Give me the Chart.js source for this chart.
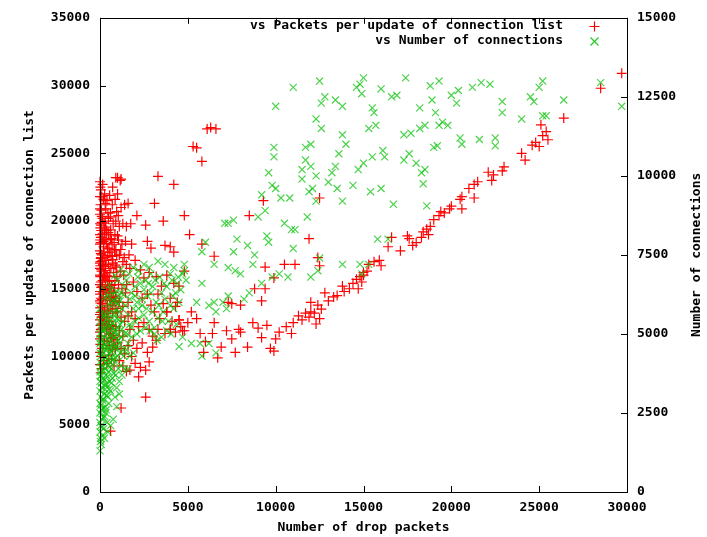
<!DOCTYPE html>
<html>
<head>
<meta charset="utf-8">
<script src="https://cdn.jsdelivr.net/npm/chart.js@4/dist/chart.umd.min.js"></script>
<style>
  html, body { margin: 0; padding: 0; background: #fff; }
  #wrap { width: 707px; height: 537px; }
</style>
</head>
<body>
<div id="wrap"><canvas id="dataChart" width="707" height="537"></canvas></div>
<script>
// axis ticks
var xTicks = [0, 5000, 10000, 15000, 20000, 25000, 30000];
var yTicks = [0, 5000, 10000, 15000, 20000, 25000, 30000, 35000];
var y2Ticks = [0, 2500, 5000, 7500, 10000, 12500, 15000];

// [drop packets, packets per update of connection list]
var packetsAxis = [
  [0,22900],[50,22300],[100,21800],[30,21200],[200,21600],[80,20800],[0,20500],[150,20200],[300,20000],[60,19700],
  [250,19400],[0,19000],[120,18800],[350,18600],[40,18400],[200,18100],[0,17800],[100,17500],[280,17300],[30,17000],
  [180,16800],[0,16500],[90,16300],[250,16100],[20,15900],[150,15600],[0,15300],[70,15100],[300,14900],[10,14600],
  [200,14400],[0,14100],[120,13900],[50,13600],[250,13400],[0,13100],[90,12900],[200,12600],[30,12300],[150,12100],
  [0,11800],[80,11500],[250,11200],[20,10900],[120,10600],[0,10300],[60,10000],[200,9700],[0,9400],[100,9100],[40,8800],
  [0,16000],[50,15500],[0,14800],[50,14300],[0,13600],[0,12700],[50,12000],[0,11300],[0,18300],[50,18800],
  [0,19800],[0,21800],[50,17600],[0,16900],[20,22500],[0,20900],[70,19300],[10,18600],[60,17300],[20,16700],
  [130,15200],[180,14700],[110,14200],[160,13300],[210,12900],[90,12400],[230,15800],[140,17100],[210,18500],[90,19900]
];
var packetsNear = [
  [400,21500],[550,21900],[700,21200],[450,20600],[600,20300],[750,19800],[380,19300],[500,19000],[650,18700],[800,18400],
  [420,18000],[560,17700],[700,17400],[350,17100],[480,16800],[620,16500],[780,16200],[400,15900],[530,15600],[680,15300],
  [350,15000],[500,14700],[650,14400],[800,14100],[420,13800],[580,13500],[720,13200],[380,12900],[520,12600],[680,12300],
  [450,12000],[600,11700],[750,11400],[400,11100],[550,10800],[700,10500],[500,10100],[650,9800],[400,9500],[800,9300],
  [900,23200],[1150,23000],[1000,22000],[950,20700],[1200,21000],[1400,21200],[900,20000],[1100,19600],[1300,19800],[850,19000],
  [1050,18600],[1250,18300],[1450,18500],[900,17900],[1100,17500],[1300,17000],[950,16600],[1150,16300],[1350,16000],[850,15600],
  [1050,15300],[1250,15000],[1450,14700],[900,14300],[1100,14000],[1300,13700],[1000,13300],[1200,12900],[1400,12600],[900,12200],
  [1100,11900],[1300,11500],[1000,11000],[1200,10600],[1400,10200],[1100,9700],[1300,9300],[1500,8900],
  [20,19500],[150,19050],[270,18650],[360,18350],[510,17950],[630,17400],[720,17150],[870,16750],[60,16450],[190,15950],
  [310,15650],[430,15150],[560,14850],[670,14350],[790,14050],[910,13550],[30,13250],[140,12950],[280,12450],[370,12150],
  [520,11650],[640,11350],[760,10850],[880,10550],[100,20350],[230,19850],[330,19550],[470,19150],[590,18650],[690,18250],
  [830,17850],[950,17450],[40,17250],[170,16750],[290,16350],[410,15950],[530,15550],[650,15250],[770,14750],[890,14450],
  [20,13950],[130,13650],[250,13150],[390,12850],[490,12350],[610,12050],[730,11550],[850,11250],
  [330,20900],[590,20600],[860,21600],[260,22000],[150,22700],[720,22500],[1040,20400],[1180,17900],[1380,17300],[1500,16800],
  [1520,15300],[1600,13000],[1650,17500],[1750,19800],[1500,19600],[1000,18900],[300,21300],[480,20200],[210,17700],[560,16200],
  [340,14250],[460,13350],[580,14150],[700,13750],[320,16650],[440,17450],[610,19350],[730,16900],[820,15050],[960,15900]
];
var packetsMid = [
  [1600,21300],[1800,18300],[2000,17100],[2300,16400],[2500,15800],[2800,16200],[1700,16500],[1900,15500],[2100,14800],[2400,14300],
  [2700,14600],[2900,13800],[1600,14000],[1800,13300],[2000,12800],[2200,12200],[2500,12500],[2800,12000],[3000,11500],[1700,12000],
  [1900,11200],[2100,10600],[2400,11000],[2700,10300],[1600,10800],[1800,10000],[2000,9500],[2300,9200],[1700,9000],[2600,9000],
  [2200,8500],[2800,9600],[3000,10700],[2600,7000],[1200,6200],[600,4500],
  [3200,15900],[3500,15200],[3800,16000],[4200,15400],[4500,15200],[4800,16300],[3300,14600],[3600,13900],[4000,14300],[4400,14000],
  [3100,13300],[3400,12800],[3800,13300],[4100,12600],[4600,12200],[3300,12000],[3700,11700],[4300,11800],[4700,11900],[3200,11200],
  [4000,12000],[4500,12700],[4300,13700],[5000,12500],
  [6300,26900],[6100,26800],[6600,26800],[5300,25500],[5500,25400],[5800,24400],[3300,23300],[4200,22700],[1000,23200],[1200,23100],
  [3100,21300],[2100,20400],[3600,20000],[4800,20400],[2600,19700],[5100,19000],[4200,17700],[3700,18200],[4000,18100],[2700,18500],
  [2900,18000],[5800,18300],[6500,17400],[9300,21500],[8500,20400],[12500,21700],[11900,18700],[12400,17300],[12500,16700],[11100,16800],
  [10500,16800],[9900,15800],[9400,16600],[9200,14100],[9400,15000],[7300,14000],[7500,13900],[8000,13800],[8800,15000],[12000,14000]
];
var packetsTrend = [
  [29700,30900],[28500,29800],[26400,27600],[25400,26600],[25200,26300],[25500,26000],[25000,25500],[25100,27100],[24800,25800],[24600,25600],
  [24200,24500],[24000,25000],[23000,24000],[22900,23700],[22400,23400],[22300,23000],[22100,23600],[21500,22900],[21300,22700],[21300,21700],
  [21000,22400],[20600,21800],[20500,21600],[20600,20900],[20000,21100],[19900,20900],[19600,20600],[19300,20400],[19400,20700],[19000,20100],
  [18800,19600],[18600,19400],[18400,19200],[18300,18800],[18700,19000],[18000,18400],[17800,18200],[17600,18700],[17500,18900],[17100,17800],
  [16600,18800],[16400,18100],[16000,16700],[15900,17100],[15600,17000],[15300,16800],[15200,16300],[15000,16000],[14800,15900],[14600,15700],
  [14400,15400],[15000,16200],[14900,15500],[14700,15000],[14200,15000],[13800,15200],[13900,14800],[13500,14500],[13300,14400],[13000,14100],
  [12800,14700],[12600,13500],[12400,13800],[12200,13200],[12000,13300],[11900,12900],[11700,13200],[11500,12700],[11300,13000],[11000,12500],
  [12500,12800],[12300,12400],[10900,11700],[10600,12200],[10200,11800],[10000,11300],[9900,10400],[9700,10600],[9500,12300],[9200,11400],
  [9000,12100],[8700,12500],[8400,10700],[8000,11800],[7900,12000],[7700,10300],[7500,11300],[7200,11900],[6900,10700],[6700,9900],
  [6500,12500],[6400,11700],[6000,11100],[5900,10300],[5700,11700],[5500,12800],[5200,13300],[4800,11900],[4500,12700],[4000,12000],[3800,13300]
];

// [drop packets, number of connections]
var connNear = [
  [0,1300],[80,1500],[30,1700],[150,1800],[0,1900],[200,2000],[50,2100],[0,2200],[120,2300],[250,2400],
  [0,2500],[80,2600],[300,2700],[0,2800],[150,2900],[40,3000],[250,3100],[0,3200],[100,3300],[300,3400],
  [0,3500],[180,3600],[60,3700],[0,3800],[280,3900],[120,4000],[0,4100],[220,4200],[60,4300],[0,4400],
  [300,4500],[150,4600],[0,4700],[80,4800],[250,4900],[0,5000],[120,5100],[40,5200],[0,5400],[200,5600],[0,5800],
  [400,2200],[350,2600],[500,2800],[450,3000],[600,3200],[400,3400],[550,3500],[700,3600],[350,3700],[500,3800],
  [650,3900],[450,4000],[600,4100],[750,4200],[400,4300],[550,4400],[700,4500],[350,4600],[500,4700],[650,4800],
  [800,4900],[450,5000],[600,5100],[750,5200],[400,5300],[550,5400],[700,5500],[350,5600],[500,5800],[650,6000],
  [450,6200],[600,6400],
  [850,3000],[950,3300],[1100,3500],[900,3700],[1050,3900],[1200,4000],[850,4100],[1000,4300],[1150,4400],[1300,4500],
  [900,4600],[1050,4800],[1200,4900],[1400,5000],[850,5100],[1000,5200],[1150,5300],[1300,5400],[950,5500],[1100,5700],
  [1250,5800],[1450,5900],[900,6000],[1050,6200],[1200,6300],[1400,6500],[1000,6700],[1300,6900],
  [30,1600],[110,2050],[200,2350],[330,2500],[60,2750],[180,2950],[400,3050],[520,3250],[90,3450],[240,3550],
  [650,3450],[780,3750],[30,3950],[350,4050],[480,4150],[900,4250],[140,4350],[620,4450],[1000,4550],[270,4650],
  [760,4650],[1100,4700],[20,4850],[430,4850],[880,5050],[190,5150],[590,5250],[1240,5150],[350,5450],[810,5650],
  [1050,5450],[60,5650],[460,5950],[1150,6050],[260,6150],[720,6250],[950,6350],[1350,6250],[140,6450],[530,6550],
  [840,6850],[1200,7050],[1100,3100],[950,2700],[750,2300],[600,2100],[450,1900],[250,1700],[1250,3700],[1400,3900],
  [160,2650],[290,3250],[420,3650],[560,3950],[690,4250],[820,4550],[980,4950],[200,3850],[330,4250],[470,4550],
  [610,4950],[740,5350],[880,5750],[170,5350],[300,5150],[530,5650],[780,6050],[1020,5950],[80,4550],[20,3650]
];
var connMid = [
  [1600,3900],[1700,4300],[1900,4400],[1600,4700],[1800,4900],[2100,5000],[2300,5100],[1700,5300],[2000,5400],[2200,5500],
  [2500,5600],[1600,5600],[1900,5800],[2100,6000],[2400,6100],[2700,6200],[1800,6300],[2000,6500],[2300,6600],[2600,6700],
  [2900,6900],[1700,6100],[2200,5800],[2800,5400],[2600,5200],[3000,5700],[2500,6400],[2900,6300],
  [3100,5200],[3300,5500],[3600,5700],[3900,5400],[4200,5800],[4500,6000],[3200,6000],[3500,6300],[3800,6500],[4100,6700],
  [4400,6600],[4700,6900],[3400,6800],[3700,6100],[4000,5900],[4300,6300],[4600,6400],[4900,6700],[3000,6500],[3100,5000],
  [3500,4900],[3800,5100],[4800,7000],[4200,7100],
  [1500,6700],[1650,6900],[1900,7100],[2200,7000],[2500,7200],[2800,7100],[3300,7300],[3700,7200],[4000,6900],[1550,5000],
  [1750,5200],[1350,4300],[1500,4500],[2000,6200],[2400,5900],[2650,5800],[3350,5900],[3650,6600],[4150,6200],[4450,6800],
  [2150,6800],[2750,6600],[3150,6700],[3550,5400],[4350,5300],[4050,5000],[3250,4800],[2850,5100]
];
var connSpread = [
  [29700,12200],[28500,12950],[26400,12400],[25200,13000],[25000,12800],[24700,12350],[24500,12500],[25400,11900],[25200,11900],[24000,11800],
  [22900,12350],[22900,12000],[22500,11200],[22500,10950],[21600,11150],[20500,11200],[20600,11000],[21200,12800],[21700,12950],[22200,12900],
  [20300,12300],[20000,12550],[20400,12700],[19500,11700],[19300,11600],[19800,11600],[19100,12000],[19200,10950],[19000,10900],[18200,12150],
  [18500,11600],[18200,11500],[18800,12850],[19300,13000],[17400,13100],[17700,11350],[17300,11300],[17600,10700],[17300,10500],[18000,10400],
  [18300,10100],[18400,9750],[18600,9050],[18500,10200],[18900,12400],[16900,12550],[16600,12500],[16000,12750],[15500,12150],[15600,12000],
  [15300,11500],[15700,11600],[16100,10800],[16200,10600],[15500,10600],[15000,10400],[14700,10200],[14800,12900],[15000,13100],[14600,12800],
  [14900,12600],[13800,12200],[13400,12400],[13800,11300],[14000,11000],[13600,10700],[13400,10300],[13200,10100],[12800,12500],[12600,12300],
  [12500,13000],[12300,11800],[12600,11500],[12000,11000],[11700,10900],[12000,10300],[12300,10000],[11500,10200],[11700,10500],[11000,12800],
  [10000,12200],[9900,10900],[9900,10600],[9600,10100],[9800,9700],[10000,9600],[10300,9300],[10800,9300],[9200,9400],[9400,8900],
  [9000,8700],[9500,8100],[9600,7900],[10500,8500],[10900,8300],[11100,8300],[12300,9200],[11900,9500],[11500,9900],[11800,8700],
  [12100,9600],[13000,9800],[13500,9600],[13800,9200],[14400,9700],[15400,9500],[16000,9600],[16700,9100],[15800,8000],[16400,8000],
  [14800,7200],[15300,7200],[13800,7200],[12500,7400],[12400,7000],[12000,6800],[14900,6900],[11000,7700],[10700,6800],[10200,6900],
  [9800,6800],[9200,6600],[8500,6300],[8200,6100],[7300,6200],[6500,6000],[6200,5900],[4800,7200],[5800,7600],[6000,7900],
  [7300,8500],[7600,8600],[7100,8500],[7800,8000],[7600,7600],[8400,7800],[8800,7500],[6500,7200],[7300,7100],[7700,7000],
  [8700,7200],[8000,6900],[5800,6600],[5500,6000],[6600,5700],[5700,4700],[6200,4700],[5200,4700],[4700,4900],[4500,4600],
  [6600,4400],[5800,4300],[7200,5800],[7000,6000]
];

var redPoints = packetsAxis.concat(packetsNear, packetsMid, packetsTrend);
var greenPoints = connNear.concat(connMid, connSpread);

function toXY(list) {
  return list.map(function(p) { return { x: p[0], y: p[1] }; });
}

function plain(v) { return String(v); }

var FONT = { family: "'DejaVu Sans Mono', monospace", size: 13, weight: 'bold' };

// frame, inward ticks, legend and right-hand title like gnuplot
var gnuplotFrame = {
  id: 'gnuplotFrame',
  afterDraw: function(chart) {
    var c = chart.ctx, a = chart.chartArea, s = chart.scales;
    var tl = 6;
    c.save();
    c.strokeStyle = '#000';
    c.lineWidth = 1;
    c.strokeRect(Math.round(a.left) + 0.5, Math.round(a.top) + 0.5,
                 Math.round(a.right - a.left), Math.round(a.bottom - a.top));
    c.beginPath();
    xTicks.forEach(function(v) {
      var px = Math.round(s.x.getPixelForValue(v)) + 0.5;
      c.moveTo(px, a.bottom); c.lineTo(px, a.bottom - tl);
      c.moveTo(px, a.top); c.lineTo(px, a.top + tl);
    });
    yTicks.forEach(function(v) {
      var py = Math.round(s.y.getPixelForValue(v)) + 0.5;
      c.moveTo(a.left, py); c.lineTo(a.left + tl, py);
    });
    y2Ticks.forEach(function(v) {
      var py = Math.round(s.y2.getPixelForValue(v)) + 0.5;
      c.moveTo(a.right, py); c.lineTo(a.right - tl, py);
    });
    c.stroke();

    // legend
    c.font = 'bold 13px "DejaVu Sans Mono", monospace';
    c.textAlign = 'right';
    c.textBaseline = 'middle';
    var rows = [
      { text: chart.data.datasets[0].label, y: 26, color: '#ff0000', rot: false },
      { text: chart.data.datasets[1].label, y: 41, color: '#22cc22', rot: true }
    ];
    rows.forEach(function(r) {
      c.fillStyle = '#000';
      c.fillText(r.text, 563, r.y);
      c.strokeStyle = r.color;
      c.lineWidth = 1.2;
      c.beginPath();
      var mx = 594.5, my = r.y + 0.5, d = 4;
      if (r.rot) {
        c.moveTo(mx - d, my - d); c.lineTo(mx + d, my + d);
        c.moveTo(mx - d, my + d); c.lineTo(mx + d, my - d);
      } else {
        c.moveTo(mx - d - 1, my); c.lineTo(mx + d + 1, my);
        c.moveTo(mx, my - d - 1); c.lineTo(mx, my + d + 1);
      }
      c.stroke();
    });

    // right axis title, reads bottom to top
    c.translate(697, (a.top + a.bottom) / 2);
    c.rotate(-Math.PI / 2);
    c.textAlign = 'center';
    c.fillStyle = '#000';
    c.fillText('Number of connections', 0, 0);
    c.restore();
  }
};

var ctx = document.getElementById('dataChart').getContext('2d');
var dataChart = new Chart(ctx, {
  type: 'scatter',
  data: {
    datasets: [{
      label: 'vs Packets per update of connection list',
      data: toXY(redPoints),
      yAxisID: 'y',
      pointStyle: 'cross',
      pointRadius: 5,
      pointBorderWidth: 1.2,
      borderColor: '#ff0000',
      backgroundColor: '#ff0000',
      order: 2,
      clip: 6
    }, {
      label: 'vs Number of connections',
      data: toXY(greenPoints),
      yAxisID: 'y2',
      pointStyle: 'crossRot',
      pointRadius: 5,
      pointBorderWidth: 1.2,
      borderColor: 'rgba(0,192,0,0.7)',
      backgroundColor: 'rgba(0,192,0,0.7)',
      order: 1,
      clip: 6
    }]
  },
  options: {
    responsive: false,
    animation: false,
    events: [],
    layout: { padding: { top: 15 } },
    plugins: {
      legend: { display: false },
      tooltip: { enabled: false }
    },
    scales: {
      x: {
        type: 'linear',
        min: 0, max: 30000,
        afterFit: function(scale) { scale.height = 45; },
        afterBuildTicks: function(scale) { scale.ticks = xTicks.map(function(v) { return { value: v }; }); },
        grid: { display: false, drawTicks: false },
        border: { display: false },
        ticks: { color: '#000', font: FONT, padding: 8, maxRotation: 0, autoSkip: false, callback: plain },
        title: { display: true, text: 'Number of drop packets', color: '#000', font: FONT, padding: { top: 0, bottom: 2 } }
      },
      y: {
        type: 'linear',
        position: 'left',
        min: 0, max: 35000,
        afterFit: function(scale) { scale.width = 100; },
        afterBuildTicks: function(scale) { scale.ticks = yTicks.map(function(v) { return { value: v }; }); },
        grid: { display: false, drawTicks: false },
        border: { display: false },
        ticks: { color: '#000', font: FONT, padding: 10, autoSkip: false, callback: plain },
        title: { display: true, text: 'Packets per update of connection list', color: '#000', font: FONT, padding: { top: 22, bottom: 0 } }
      },
      y2: {
        type: 'linear',
        position: 'right',
        min: 0, max: 15000,
        afterFit: function(scale) { scale.width = 80; },
        afterBuildTicks: function(scale) { scale.ticks = y2Ticks.map(function(v) { return { value: v }; }); },
        grid: { display: false, drawTicks: false },
        border: { display: false },
        ticks: { color: '#000', font: FONT, padding: 10, autoSkip: false, callback: plain }
      }
    }
  },
  plugins: [gnuplotFrame]
});
</script>
</body>
</html>
